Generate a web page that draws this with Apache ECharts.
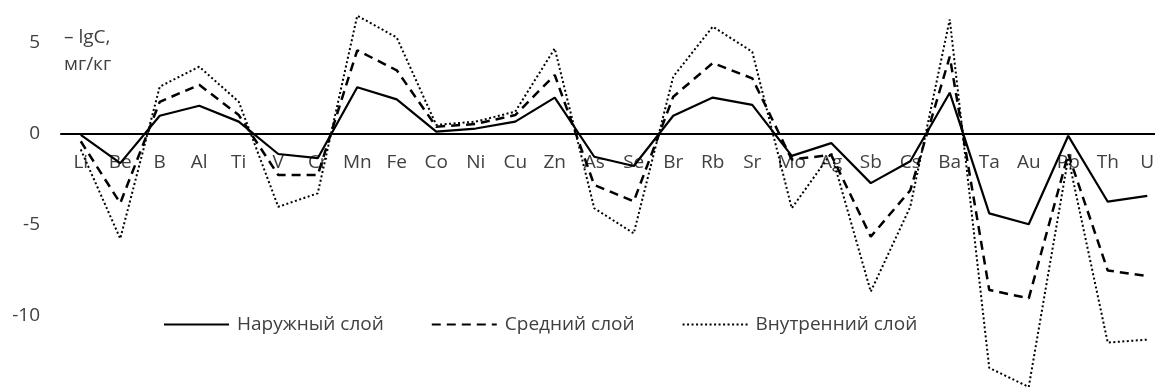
<!DOCTYPE html>
<html>
<head>
<meta charset="utf-8">
<script src="https://cdn.jsdelivr.net/npm/echarts@6/dist/echarts.min.js"></script>
<style>
html,body{margin:0;padding:0;background:#fff;}
#chart{width:1155px;height:387px;}
</style>
</head>
<body>
<div id="chart"></div>
<script>
const categories = ['Li','Be','B','Al','Ti','V','Cr','Mn','Fe','Co','Ni','Cu','Zn','As','Se','Br','Rb','Sr','Mo','Ag','Sb','Cs','Ba','Ta','Au','Pb','Th','U'];
const outerLayer = [-0.05,-1.6,1.0,1.55,0.68,-1.1,-1.33,2.57,1.9,0.13,0.3,0.68,2.0,-1.25,-1.76,1.0,2.0,1.6,-1.2,-0.5,-2.7,-1.5,2.27,-4.36,-4.96,-0.1,-3.72,-3.4];
const middleLayer = [-0.4,-3.8,1.77,2.7,1.04,-2.25,-2.25,4.6,3.5,0.4,0.55,1.04,3.24,-2.8,-3.7,2.05,3.9,3.06,-1.4,-1.15,-5.64,-3.1,4.25,-8.57,-9.03,-1.1,-7.5,-7.8];
const innerLayer = [-0.85,-5.75,2.6,3.7,1.77,-4.0,-3.26,6.5,5.3,0.5,0.68,1.23,4.7,-4.08,-5.46,3.15,5.9,4.52,-4.08,-1.05,-8.66,-4.0,6.3,-12.85,-13.9,-1.3,-11.46,-11.3];
const seriesNames = ['Наружный слой','Средний слой','Внутренний слой'];
const yAxisName = ['– lgC,','мг/кг'];

const FONT = '"Open Sans", sans-serif';
const Y_MIN = -15, Y_MAX = 10, GRID_TOP = -48, GRID_H = 455;
// distance from grid bottom to the zero value (axis drawn at y = 0)
const zeroOffset = GRID_H * (0 - Y_MIN) / (Y_MAX - Y_MIN);

const chart = echarts.init(document.getElementById('chart'));
chart.setOption({
  animation: false,
  backgroundColor: '#fff',
  textStyle: {fontFamily: FONT},
  grid: {left: 61, right: -12, top: GRID_TOP, height: GRID_H, containLabel: false, outerBoundsMode: 'none'},
  xAxis: {
    type: 'category',
    data: categories,
    boundaryGap: true,
    position: 'bottom',
    offset: -zeroOffset,
    axisLine: {onZero: false, lineStyle: {color: '#000', width: 2}},
    axisTick: {show: false},
    axisLabel: {color: '#404040', fontSize: 19, margin: 19, interval: 0, fontFamily: FONT}
  },
  yAxis: {
    type: 'value',
    min: Y_MIN, max: Y_MAX, interval: 5,
    axisLine: {show: false},
    axisTick: {show: false},
    splitLine: {show: false},
    axisLabel: {color: '#404040', fontSize: 19, margin: 21, fontFamily: FONT}
  },
  legend: {
    data: seriesNames,
    top: 315,
    left: 163,
    padding: 0,
    itemWidth: 65,
    itemHeight: 14,
    itemGap: 47,
    itemStyle: {color: 'rgba(0,0,0,0)', borderColor: 'rgba(0,0,0,0)', borderWidth: 0, opacity: 0},
    textStyle: {color: '#404040', fontSize: 19, fontFamily: FONT, padding: [0,0,0,3]}
  },
  graphic: [{
    type: 'text', left: 64, top: 24,
    style: {text: yAxisName.join('\n'), fill: '#404040', font: '19px ' + FONT, lineHeight: 27}
  }],
  series: [
    {name: seriesNames[0], type: 'line', data: outerLayer, symbol: 'none', clip: false,
     lineStyle: {color: '#000', width: 2.2, type: 'solid'}, itemStyle: {color: '#000'}},
    {name: seriesNames[1], type: 'line', data: middleLayer, symbol: 'none', clip: false,
     lineStyle: {color: '#000', width: 2.5, type: [9, 6]}, itemStyle: {color: '#000'}},
    {name: seriesNames[2], type: 'line', data: innerLayer, symbol: 'none', clip: false,
     lineStyle: {color: '#000', width: 2, type: [2, 2.5]}, itemStyle: {color: '#000'}}
  ]
});
</script>
</body>
</html>
